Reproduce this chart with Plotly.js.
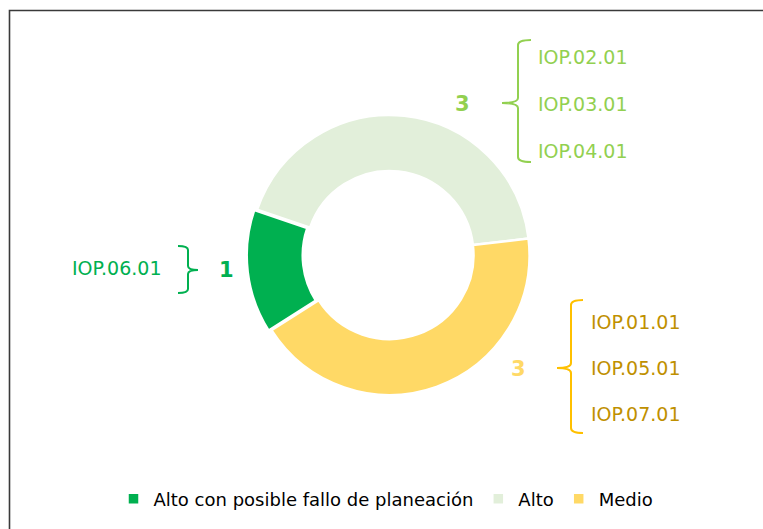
<!DOCTYPE html>
<html>
<head>
<meta charset="utf-8">
<script src="https://cdn.plot.ly/plotly-3.0.1.min.js"></script>
<style>html,body{margin:0;padding:0;background:#fff;}#chart{width:763px;height:529px;}</style>
</head>
<body>
<div id="chart"></div>
<script>
// ---- Data ----
const categories = ["Alto con posible fallo de planeación", "Alto", "Medio"];
const counts = [1, 3, 3];
const sliceColors = ["#00B050", "#E2EFDA", "#FFD966"];
const slicePull = [0.02, 0, 0];
const idsFallo = ["IOP.06.01"];
const idsAlto = ["IOP.02.01", "IOP.03.01", "IOP.04.01"];
const idsMedio = ["IOP.01.01", "IOP.05.01", "IOP.07.01"];

// ---- Layout helpers (pixel -> paper) ----
const W = 763, H = 529;
const px = x => x / W;
const py = y => 1 - y / H;
const FONT = "DejaVu Sans, Open Sans, sans-serif";

function bracePath(x, top, bottom, mid, endX, tipX, r) {
  const P = (a, b) => px(a).toFixed(5) + "," + py(b).toFixed(5);
  return "M" + P(endX, top) + " Q" + P(x, top) + " " + P(x, top + r) +
    " L" + P(x, mid - r) + " Q" + P(x, mid) + " " + P(tipX, mid) +
    " Q" + P(x, mid) + " " + P(x, mid + r) +
    " L" + P(x, bottom - r) + " Q" + P(x, bottom) + " " + P(endX, bottom);
}

// donut geometry (domain enlarged to compensate for the pull)
const cx = 389.5, cy = 255, R = 140 * (1 + Math.max(...slicePull));

const trace = {
  type: "pie",
  labels: categories,
  values: counts,
  pull: slicePull,
  marker: { colors: sliceColors, line: { color: "#FFFFFF", width: 2.5 } },
  hole: 0.6,
  sort: false,
  direction: "clockwise",
  rotation: 237.5,
  textinfo: "none",
  hoverinfo: "label+value",
  domain: { x: [px(cx - R), px(cx + R)], y: [py(cy + R), py(cy - R)] }
};

const groups = [
  { n: counts[0], ids: idsFallo, numColor: "#00B050", idColor: "#00B050", numX: 227, numY: 270, idX: 164, idYs: [268], anchor: "right" },
  { n: counts[1], ids: idsAlto, numColor: "#92D050", idColor: "#92D050", numX: 462, numY: 104, idX: 536, idYs: [57, 104, 151], anchor: "left" },
  { n: counts[2], ids: idsMedio, numColor: "#FFD966", idColor: "#BF9000", numX: 518, numY: 369, idX: 589, idYs: [322, 368, 414], anchor: "left" }
];

const annotations = [];
groups.forEach(g => {
  annotations.push({
    xref: "paper", yref: "paper", x: px(g.numX), y: py(g.numY),
    xanchor: "center", yanchor: "middle", showarrow: false,
    text: "<b>" + g.n + "</b>",
    font: { family: FONT, size: 21, color: g.numColor }
  });
  g.ids.forEach((id, i) => {
    annotations.push({
      xref: "paper", yref: "paper", x: px(g.idX), y: py(g.idYs[i]),
      xanchor: g.anchor, yanchor: "middle", showarrow: false,
      text: id,
      font: { family: FONT, size: 19, color: g.idColor }
    });
  });
});

const shapes = [
  { type: "rect", xref: "paper", yref: "paper", x0: px(9.5), y0: py(10.5), x1: px(800), y1: py(600),
    line: { color: "#3A3A3A", width: 1.6 }, fillcolor: "rgba(0,0,0,0)", layer: "above" },
  { type: "path", xref: "paper", yref: "paper", path: bracePath(518, 40, 162, 103, 531, 502, 5),
    line: { color: "#92D050", width: 2 } },
  { type: "path", xref: "paper", yref: "paper", path: bracePath(571, 300, 433, 368, 583, 557, 5),
    line: { color: "#FFC000", width: 2 } },
  { type: "path", xref: "paper", yref: "paper", path: bracePath(188, 246, 293, 270, 178, 198, 4),
    line: { color: "#00B050", width: 2 } }
];

const layout = {
  width: W, height: H,
  margin: { l: 0, r: 0, t: 0, b: 0 },
  paper_bgcolor: "#FFFFFF",
  showlegend: true,
  legend: {
    orientation: "h", x: px(386), xanchor: "center", y: py(499), yanchor: "middle",
    font: { family: FONT, size: 18, color: "#000000" },
    itemwidth: 30, tracegroupgap: 0, bgcolor: "rgba(0,0,0,0)"
  },
  annotations: annotations,
  shapes: shapes,
  font: { family: FONT }
};

Plotly.newPlot("chart", [trace], layout, { displayModeBar: false, staticPlot: true });
</script>
</body>
</html>
